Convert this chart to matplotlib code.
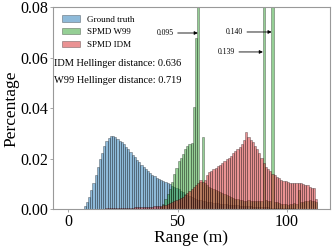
import numpy as np
import matplotlib
matplotlib.use("Agg")
import matplotlib.pyplot as plt

plt.rcParams['font.family'] = ['Liberation Serif', 'DejaVu Serif']

# ---- data (histogram heights per 1 m range bin; first bin start given) ----
gt_start = 7
gt_values = [0.0012, 0.003, 0.005, 0.0075, 0.0105, 0.0137, 0.0168, 0.0198, 0.0225, 0.0252,
             0.027, 0.0282, 0.0289, 0.029, 0.0286, 0.028, 0.0272, 0.0265, 0.0257, 0.0248,
             0.0238, 0.0228, 0.0217, 0.0206, 0.0196, 0.0187, 0.0177, 0.0169, 0.016, 0.0152,
             0.0145, 0.0138, 0.0131, 0.0126, 0.0121, 0.0116, 0.0111, 0.0107, 0.0103, 0.0099,
             0.0094, 0.009, 0.0085, 0.008, 0.0074, 0.0068, 0.0062, 0.0057, 0.0052, 0.0048,
             0.0045, 0.0042, 0.0039, 0.0036, 0.0034, 0.0032, 0.003, 0.0029, 0.0028, 0.0026,
             0.0025, 0.0024, 0.0023, 0.0022, 0.0021, 0.002, 0.0019, 0.0018, 0.0017, 0.0016,
             0.0016, 0.0015, 0.0014, 0.0014, 0.0013, 0.0012, 0.0012, 0.0011, 0.0011, 0.001,
             0.001, 0.0009, 0.0009, 0.0008, 0.0008, 0.0007, 0.0007, 0.0007, 0.0006, 0.0006,
             0.0006, 0.0005, 0.0005, 0.0005, 0.0004, 0.0004, 0.0004, 0.0003, 0.0003, 0.0003,
             0.0003, 0.0002, 0.0002, 0.0002, 0.0002, 0.0001, 0.0001]

w99_start = 42
w99_values = [0.001, 0.002, 0.004, 0.006, 0.008, 0.011, 0.014, 0.0165, 0.019, 0.0205,
              0.022, 0.024, 0.025, 0.026, 0.0262, 0.0405, 0.068, 0.095, 0.011, 0.0286,
              0.0105, 0.0095, 0.009, 0.0085, 0.008, 0.0078, 0.0072, 0.0068, 0.0065, 0.006,
              0.0058, 0.0055, 0.005, 0.0045, 0.0042, 0.004, 0.0038, 0.0036, 0.0035, 0.0034,
              0.0036, 0.0033, 0.0035, 0.0032, 0.0034, 0.0033, 0.0035, 0.139, 0.0036, 0.0034,
              0.0033, 0.140, 0.003, 0.0028, 0.0025, 0.0022, 0.002, 0.0021, 0.0019, 0.0022,
              0.002, 0.0024, 0.0021, 0.0075, 0.0028, 0.003, 0.0034, 0.0032, 0.0036, 0.0033,
              0.0035, 0.003]

idm_start = 12
idm_values = [0.0003, 0.0003, 0.0003, 0.0003, 0.0003, 0.0004, 0.0004, 0.0004, 0.0005, 0.0005,
              0.0005, 0.0005, 0.0006, 0.0006, 0.0006, 0.0007, 0.0007, 0.0007, 0.0008, 0.0008,
              0.0008, 0.0009, 0.0009, 0.001, 0.001, 0.0011, 0.0011, 0.0012, 0.0013, 0.0014,
              0.0015, 0.0016, 0.0018, 0.002, 0.0025, 0.003, 0.0033, 0.0037, 0.004, 0.0045,
              0.005, 0.0058, 0.0065, 0.0072, 0.008, 0.0088, 0.0095, 0.0105, 0.0115, 0.011,
              0.0115, 0.0135, 0.0148, 0.0152, 0.0158, 0.0165, 0.017, 0.0176, 0.0185, 0.0192,
              0.0198, 0.0205, 0.0212, 0.0222, 0.023, 0.0238, 0.0248, 0.026, 0.0276, 0.0305,
              0.0285, 0.0276, 0.0265, 0.0252, 0.024, 0.0222, 0.0205, 0.0185, 0.0168, 0.0158,
              0.015, 0.0142, 0.0136, 0.013, 0.0124, 0.0118, 0.0114, 0.0111, 0.0108, 0.0106,
              0.0105, 0.0104, 0.0104, 0.0103, 0.0103, 0.0102, 0.0098, 0.0095, 0.009, 0.0086,
              0.0085, 0.0042]

series_labels = ["Ground truth", "SPMD W99", "SPMD IDM"]
hellinger_idm = 0.636
hellinger_w99 = 0.719
peak_labels = ["0.095", "0.139", "0.140"]
x_ticks = [0, 50, 100]
y_ticks = [0.00, 0.02, 0.04, 0.06, 0.08]

# ---- figure ----
fig = plt.figure(figsize=(3.32, 2.49), dpi=100)
ax = fig.add_axes([0.161, 0.159, 0.8315, 0.812])

colors = ["tab:blue", "tab:green", "tab:red"]
for start, vals, col, lab in zip([gt_start, w99_start, idm_start],
                                 [gt_values, w99_values, idm_values],
                                 colors, series_labels):
    xs = np.arange(start, start + len(vals))
    ax.bar(xs, vals, width=1.0, align='edge', color=col, alpha=0.5,
           edgecolor='black', linewidth=0.4, label=lab)

ax.set_xlim(-6.8, 119.6)
ax.set_ylim(0, 0.08)
ax.set_xticks(x_ticks)
ax.set_yticks(y_ticks)
ax.set_yticklabels([f"{v:.2f}" for v in y_ticks])
ax.tick_params(labelsize=11.5, length=2.5, width=0.6, color='#999999', pad=1)
for s in ax.spines.values():
    s.set_color('#999999')
    s.set_linewidth(0.8)

ax.set_xlabel("Range (m)", fontsize=12.5, labelpad=0)
ax.set_ylabel("Percentage", fontsize=12.5, labelpad=1)

ax.legend(loc='upper left', fontsize=6.5, frameon=False)

ax.text(0.003, 0.724, f"IDM Hellinger distance: {hellinger_idm:.3f}",
        transform=ax.transAxes, fontsize=7.5, va='center', ha='left')
ax.text(0.003, 0.636, f"W99 Hellinger distance: {hellinger_w99:.3f}",
        transform=ax.transAxes, fontsize=7.5, va='center', ha='left')

arrow_kw = dict(arrowstyle='-|>', color='black', lw=0.6, shrinkA=1, shrinkB=0,
                mutation_scale=5)
ax.annotate(peak_labels[0], xy=(59.3, 0.0698), xytext=(44.3, 0.0698),
            fontsize=5.5, ha='center', va='center', arrowprops=arrow_kw)
ax.annotate(peak_labels[1], xy=(89.1, 0.0623), xytext=(72.3, 0.0623),
            fontsize=5.5, ha='center', va='center', arrowprops=arrow_kw)
ax.annotate(peak_labels[2], xy=(93.1, 0.0702), xytext=(76.0, 0.0702),
            fontsize=5.5, ha='center', va='center', arrowprops=arrow_kw)

fig.savefig("out.png", dpi=100)
